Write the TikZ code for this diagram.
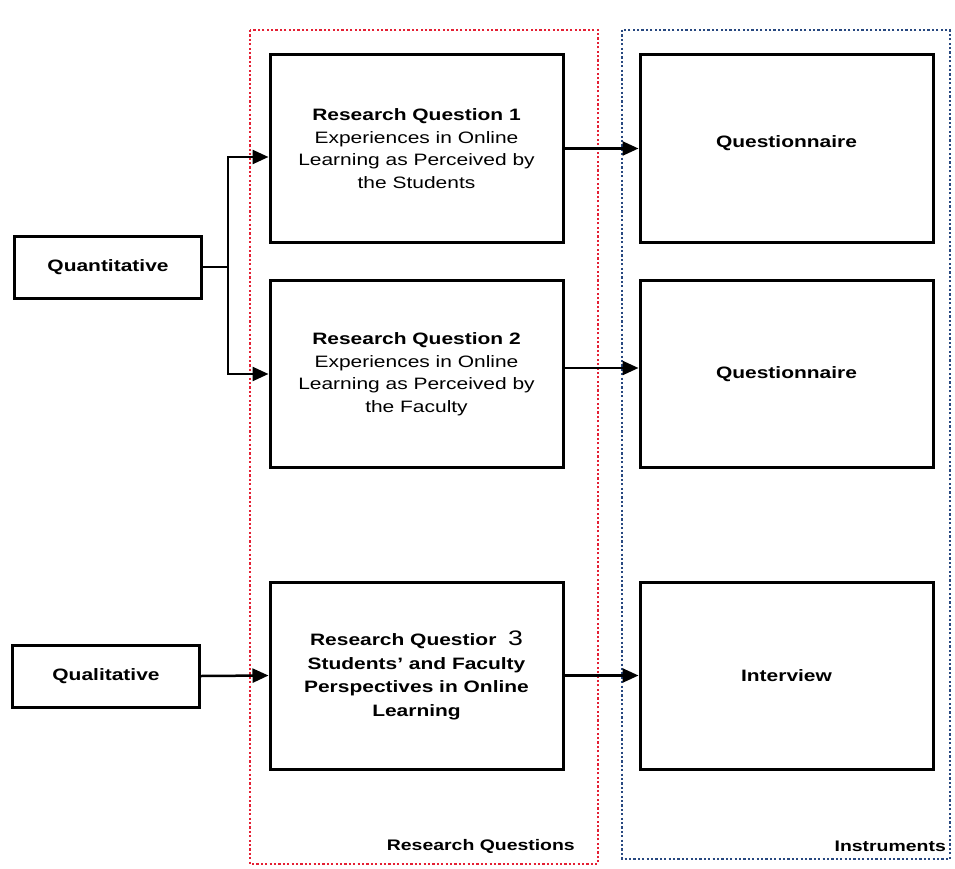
\documentclass[tikz,border=0pt]{standalone}
\usepackage{fontspec}
\setmainfont{Liberation Sans}[FakeStretch=1.27]
\usetikzlibrary{arrows.meta}
\definecolor{framered}{RGB}{228,32,52}
\definecolor{frameblue}{RGB}{40,72,128}
\begin{document}
\begin{tikzpicture}[x=1pt,y=-1pt,
  box/.style={draw=black, line width=3pt, fill=white, inner sep=0pt, align=center,
    font=\fontsize{16.5}{22.5}\selectfont},
  bigbox/.style={box, minimum width=293pt, minimum height=187pt},
  smallbox/.style={box, minimum width=187pt, minimum height=62pt, font=\fontsize{16.5}{22.5}\selectfont\bfseries},
  frame/.style={line width=2.6pt, dash pattern=on 2.2pt off 2.2pt},
  conn/.style={line width=2.5pt, draw=black},
  arr/.style={conn, -{Triangle[length=16pt,width=14pt]}},
  lbl/.style={font=\fontsize{15.3}{18}\selectfont\bfseries, inner sep=0pt}
]
\useasboundingbox (0,0) rectangle (955,869);
\fill[white] (0,0) rectangle (955,869);

% frames
\draw[frame, framered] (250,30) rectangle (598,864);
\draw[frame, frameblue] (622,30) rectangle (950,859);

% research question boxes
\node[bigbox] (rq1) at (416.5,148.5) {{\bfseries Research Question 1}\\Experiences in Online\\Learning as Perceived by\\the Students};
\node[bigbox] (rq2) at (416.5,374) {{\bfseries Research Question 2}\\Experiences in Online\\Learning as Perceived by\\the Faculty};
\node[bigbox, font=\fontsize{16.5}{23.5}\selectfont\bfseries] (rq3) at (416.5,675.5) {Research Questior\ \ {\mdseries\fontsize{21}{23.5}\selectfont 3}\\Students' and Faculty\\Perspectives in Online\\Learning};

% instrument boxes
\node[bigbox, font=\fontsize{16.5}{22.5}\selectfont\bfseries] (q1) at (786.5,148.5) {\raisebox{13pt}{Questionnaire}};
\node[bigbox, font=\fontsize{16.5}{22.5}\selectfont\bfseries] (q2) at (786.5,374) {\raisebox{-2pt}{Questionnaire}};
\node[bigbox, font=\fontsize{16.5}{22.5}\selectfont\bfseries] (iv) at (786.5,675.5) {Interview};

% method boxes
\node[smallbox] (quant) at (108,267) {Quantitative};
\node[smallbox] (qual) at (106,676) {Qualitative};

% connectors
\coordinate (br) at (228,267);
\draw[conn] (quant.east) -- (br);
\draw[arr] (br) |- ([yshift=-8.5pt]rq1.west);
\draw[arr] (br) |- (rq2.west);
\draw[arr] (qual.east) -- (rq3.west);
\draw[arr] (rq1.east) -- (q1.west);
\draw[arr] ([yshift=6pt]rq2.east) -- ([yshift=6pt]q2.west);
\draw[arr] (rq3.east) -- (iv.west);

% frame labels
\node[lbl, anchor=east] (lrq) at (575,846) {Research Questions};
\node[lbl, anchor=east] (lin) at (946,846) {Instruments};
\end{tikzpicture}
\end{document}
